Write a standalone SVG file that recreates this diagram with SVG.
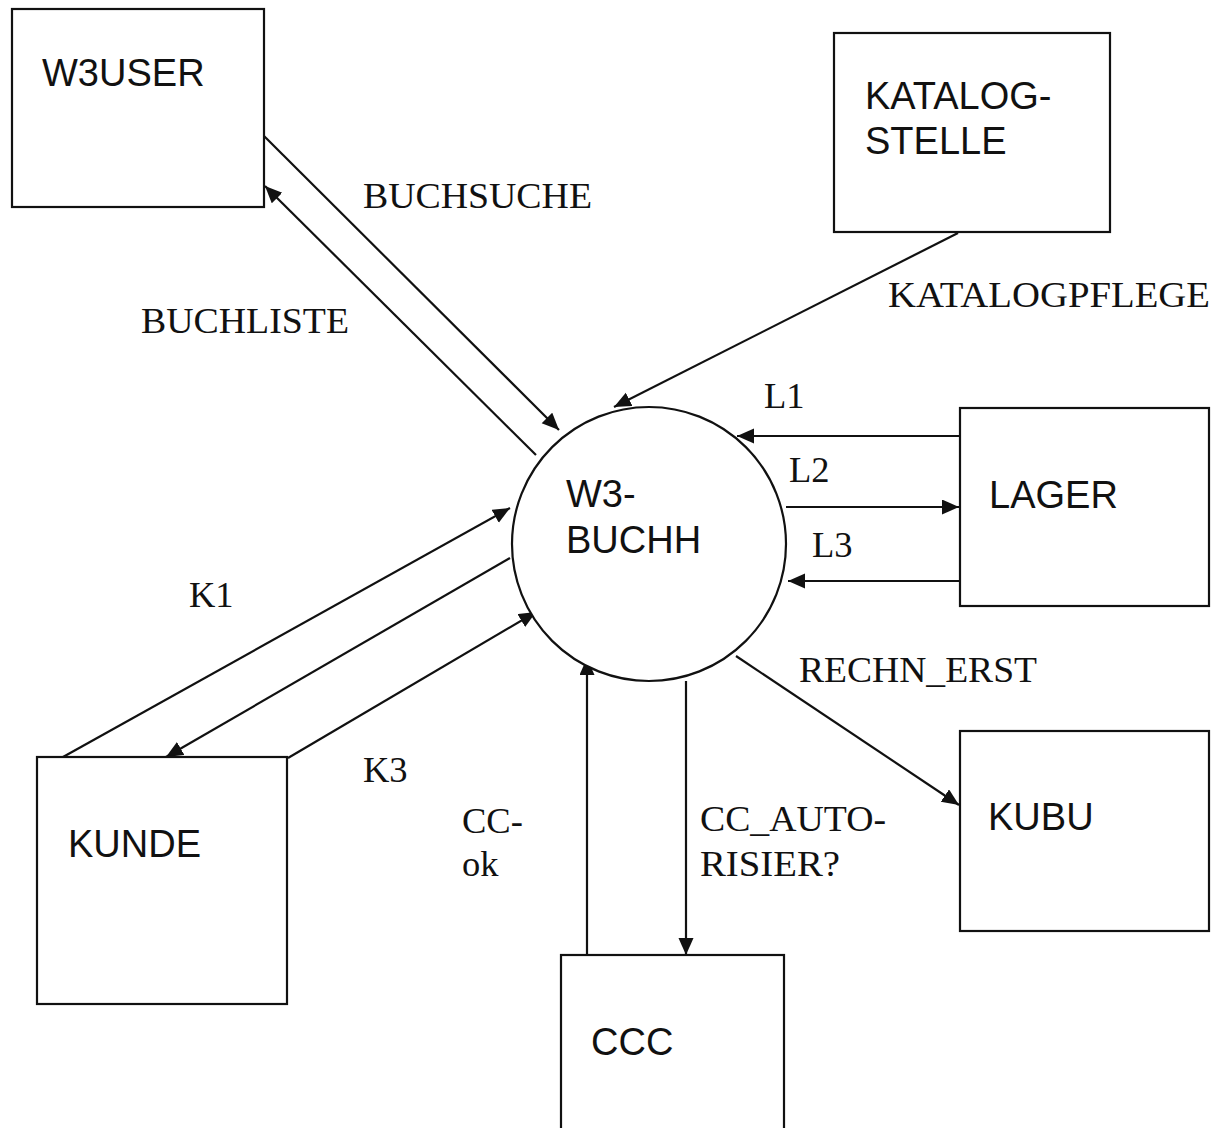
<svg xmlns="http://www.w3.org/2000/svg" width="1213" height="1128" viewBox="0 0 1213 1128">
  <style>
    .box { fill: #ffffff; stroke: #111111; stroke-width: 2.2; }
    .proc { fill: #ffffff; stroke: #111111; stroke-width: 2.2; }
    .flow { fill: none; stroke: #111111; stroke-width: 2.2; }
    .arr { marker-end: url(#head); }
    .name { font-family: "Liberation Sans", Arial, sans-serif; font-size: 38px; fill: #111111; }
    .lbl { font-family: "Liberation Serif", "Times New Roman", serif; font-size: 36.5px; fill: #111111; }
  </style>
  <defs>
    <marker id="head" markerUnits="userSpaceOnUse" markerWidth="19" markerHeight="16" refX="17" refY="7.5" orient="auto">
      <path d="M0,0 L17,7.5 L0,15 Z" fill="#111111"/>
    </marker>
  </defs>
  <rect width="1213" height="1128" fill="#ffffff"/>

  <!-- data flows -->
  <g id="connectors">
    <line class="flow arr" x1="264" y1="136" x2="559" y2="430"/>
    <line class="flow arr" x1="536" y1="455" x2="265" y2="186"/>
    <line class="flow arr" x1="958" y1="233" x2="614" y2="407"/>
    <line class="flow arr" x1="960" y1="436" x2="737" y2="436"/>
    <line class="flow arr" x1="786" y1="507" x2="959" y2="507"/>
    <line class="flow arr" x1="960" y1="581" x2="788" y2="581"/>
    <line class="flow arr" x1="736" y1="656" x2="959" y2="805"/>
    <line class="flow arr" x1="686" y1="681" x2="686" y2="955"/>
    <line class="flow arr" x1="587" y1="955" x2="587" y2="658"/>
    <line class="flow arr" x1="63" y1="757" x2="510" y2="508"/>
    <line class="flow arr" x1="510" y1="558" x2="166" y2="757"/>
    <line class="flow arr" x1="288" y1="758" x2="536" y2="612"/>
  </g>

  <!-- flow labels -->
  <g id="labels">
    <text class="lbl" x="363" y="208" textLength="229" lengthAdjust="spacingAndGlyphs">BUCHSUCHE</text>
    <text class="lbl" x="141" y="333" textLength="208" lengthAdjust="spacingAndGlyphs">BUCHLISTE</text>
    <text class="lbl" x="888" y="307" textLength="322" lengthAdjust="spacingAndGlyphs">KATALOGPFLEGE</text>
    <text class="lbl" x="764" y="408">L1</text>
    <text class="lbl" x="789" y="482">L2</text>
    <text class="lbl" x="812" y="557">L3</text>
    <text class="lbl" x="799" y="682" textLength="238" lengthAdjust="spacingAndGlyphs">RECHN_ERST</text>
    <text class="lbl" x="189" y="607">K1</text>
    <text class="lbl" x="363" y="782">K3</text>
    <text class="lbl" x="462" y="833">CC-</text>
    <text class="lbl" x="462" y="876">ok</text>
    <text class="lbl" x="700" y="831" textLength="186" lengthAdjust="spacingAndGlyphs">CC_AUTO-</text>
    <text class="lbl" x="700" y="876" textLength="140" lengthAdjust="spacingAndGlyphs">RISIER?</text>
  </g>

  <g id="w3buchh">
    <circle class="proc" cx="649" cy="544" r="137"/>
    <text class="name" x="566" y="507">W3-</text>
    <text class="name" x="566" y="553">BUCHH</text>
  </g>

  <g id="w3user">
    <rect class="box" x="12" y="9" width="252" height="198"/>
    <text class="name" x="42" y="86">W3USER</text>
  </g>

  <g id="katalogstelle">
    <rect class="box" x="834" y="33" width="276" height="199"/>
    <text class="name" x="865" y="109">KATALOG-</text>
    <text class="name" x="865" y="154">STELLE</text>
  </g>

  <g id="lager">
    <rect class="box" x="960" y="408" width="249" height="198"/>
    <text class="name" x="989" y="508">LAGER</text>
  </g>

  <g id="kubu">
    <rect class="box" x="960" y="731" width="249" height="200"/>
    <text class="name" x="988" y="830">KUBU</text>
  </g>

  <g id="kunde">
    <rect class="box" x="37" y="757" width="250" height="247"/>
    <text class="name" x="68" y="857">KUNDE</text>
  </g>

  <g id="ccc">
    <rect class="box" x="561" y="955" width="223" height="190"/>
    <text class="name" x="591" y="1055">CCC</text>
  </g>
</svg>
